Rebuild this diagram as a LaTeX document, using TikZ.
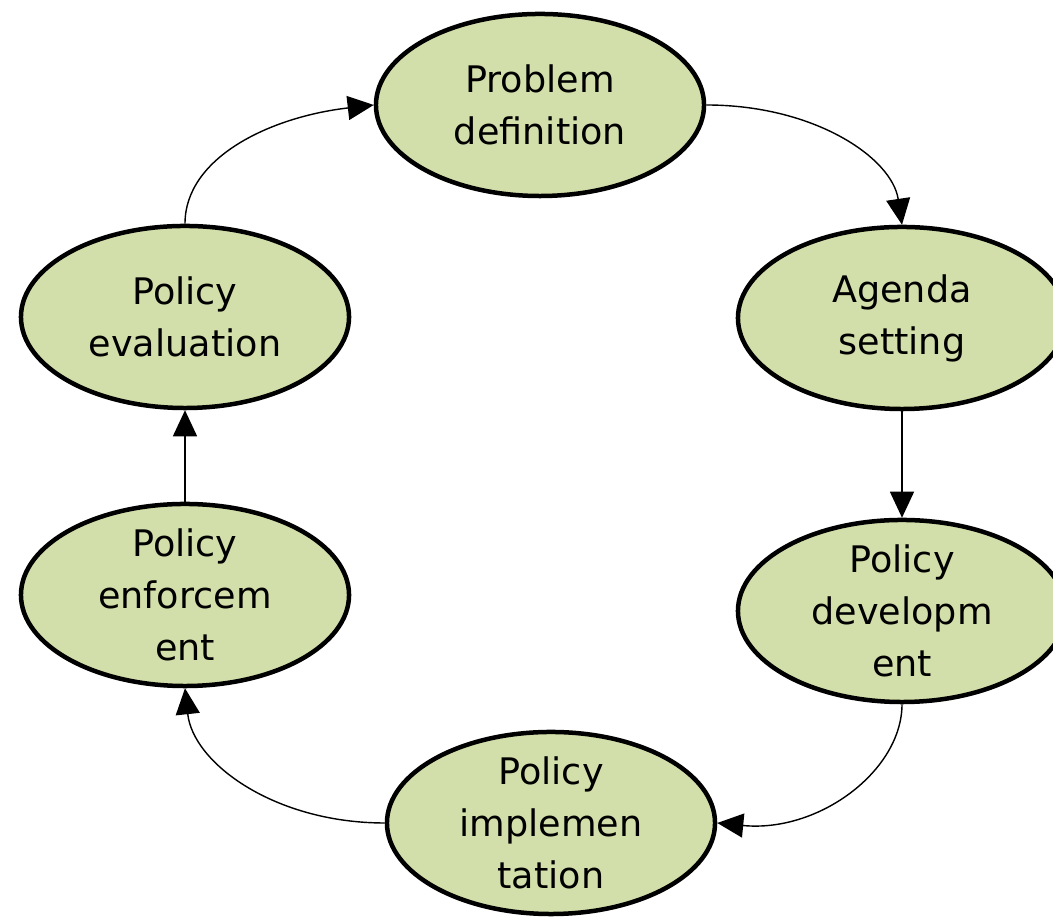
\documentclass[tikz,border=0pt]{standalone}
\usepackage{fontspec}
\newfontfamily\stagefont{DejaVu Sans}
\usetikzlibrary{shapes.geometric, arrows.meta}
\definecolor{stagegreen}{HTML}{D3DFAA}

\begin{document}
\begin{tikzpicture}[x=0.025cm, y=0.025cm, stage/.style={ellipse, draw, line width=3.2pt, fill=stagegreen, minimum width=8.2cm, minimum height=4.55cm, inner sep=0pt}, stagetext/.style={font=\stagefont\fontsize{26}{37}\selectfont, align=center, inner sep=0pt}, flow/.style={-{Triangle[length=0.65cm, width=0.6cm]}, line width=1pt}]
	\useasboundingbox (0, 0) rectangle (1053, 918);
	
	% Các giai đoạn
	\node[stage, label={[stagetext]center:Problem\\definition}] (def) at (540, 813) {};
	\node[stage, label={[stagetext]center:Agenda\\setting}] (agenda) at (902, 600) {};
	\node[stage, label={[stagetext]center:Policy\\developm\\ent}] (dev) at (902, 307) {};
	\node[stage, label={[stagetext]center:Policy\\implemen\\tation}] (impl) at (551, 95) {};
	\node[stage, label={[stagetext]center:Policy\\enforcem\\ent}] (enf) at (185, 323) {};
	\node[stage, label={[stagetext]center:Policy\\evaluation}] (eval) at (185, 601) {};
	
	% Mũi tên
	\draw[flow] (def.east) .. controls +(108, 0) and +(-10, 67) .. (agenda.north);
	\draw[flow] (agenda.south) -- (dev.north);
	\draw[flow] (dev.south) .. controls +(0, -66) and +(102, -10) .. (impl.east);
	\draw[flow] (impl.west) .. controls +(-110, 0) and +(8, -75) .. (enf.south);
	\draw[flow] (enf.north) -- (eval.south);
	\draw[flow] (eval.north) .. controls +(0, 66) and +(-104, -12) .. (def.west);
\end{tikzpicture}
\end{document}
